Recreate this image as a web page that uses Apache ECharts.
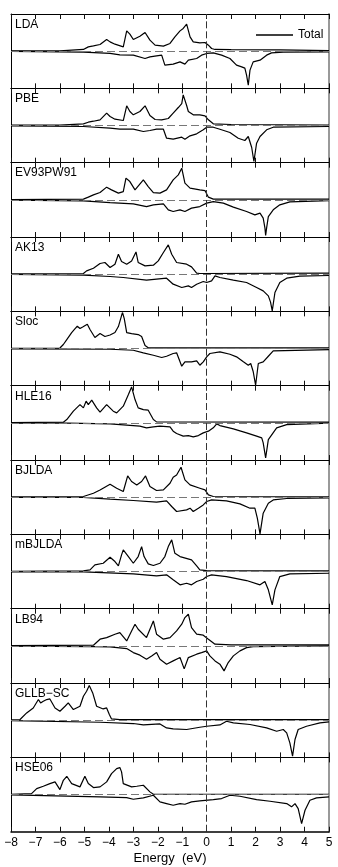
<!DOCTYPE html>
<html>
<head>
<meta charset="utf-8">
<script src="https://cdn.jsdelivr.net/npm/echarts@6/dist/echarts.min.js"></script>
<style>
  html, body { margin: 0; padding: 0; background: #fff; }
  #chart { width: 338px; height: 867px; }
</style>
</head>
<body>
<div id="chart"></div>
<script>
var panelNames = ['LDA', 'PBE', 'EV93PW91', 'AK13', 'Sloc', 'HLE16', 'BJLDA', 'mBJLDA', 'LB94', 'GLLB\u2212SC', 'HSE06']
var energyMin = -8
var energyMax = 5

// [energy (eV), DOS] pairs; up = majority spin, down = minority spin
var ldaUp = [[-8, 0.3], [-6, 0.3], [-5.04, 1.7], [-4.84, 4.3], [-4.63, 5.3], [-4.36, 6.7], [-4.09, 11.7], [-3.95, 9.3], [-3.75, 7], [-3.41, 4.3], [-3.27, 20.3], [-3.14, 17], [-3.0, 11.7], [-2.73, 15], [-2.52, 18.7], [-2.32, 11], [-2.11, 6], [-1.77, 5], [-1.5, 7.7], [-1.3, 14.3], [-1.09, 20.3], [-0.96, 22.7], [-0.82, 27], [-0.68, 14.3], [-0.55, 9.3], [-0.28, 8.3], [-0.07, 8.7], [0.07, 6], [0.2, 2.7], [0.34, 1.7], [1, 1.5], [3, 1.3], [5, 0.5]]
var ldaDown = [[-8, -0.3], [-5.04, -1], [-3.95, -2.3], [-3.55, -3.7], [-3.0, -4], [-2.52, -7.3], [-2.32, -5.7], [-2.05, -4.7], [-1.84, -4], [-1.71, -14], [-1.37, -13], [-1.09, -10.7], [-0.89, -13], [-0.75, -9], [-0.41, -7.3], [-0.21, -4], [0, -2.3], [0.27, -1.7], [0.61, -4], [0.95, -7.3], [1.22, -14], [1.43, -15.7], [1.56, -17], [1.63, -24], [1.7, -34], [1.77, -19], [1.9, -10.7], [2.18, -9], [2.45, -4], [2.65, -1.7], [3.13, -1], [5, -0.7]]

var pbeUp = [[-8, 0.3], [-6, 0.3], [-5.04, 1.7], [-4.84, 3.3], [-4.63, 4.3], [-4.36, 5.7], [-4.09, 12.4], [-3.95, 9], [-3.75, 6.3], [-3.41, 5], [-3.27, 19.7], [-3.14, 14], [-3.0, 10.7], [-2.73, 14], [-2.52, 19.7], [-2.32, 10], [-2.11, 6], [-1.84, 5.7], [-1.57, 7], [-1.37, 12.4], [-1.16, 18], [-1.02, 22], [-0.96, 30.7], [-0.82, 20], [-0.75, 14], [-0.55, 10.7], [-0.28, 10.7], [-0.07, 9.7], [0.07, 5.7], [0.27, 1.7], [1, 1], [5, 0.5]]
var pbeDown = [[-8, -0.3], [-5.04, -1], [-3.95, -2.7], [-3.55, -3.7], [-3.0, -3.7], [-2.59, -6], [-2.32, -5], [-2.05, -3.7], [-1.77, -3.7], [-1.64, -12.7], [-1.37, -13.7], [-1.02, -11.7], [-0.89, -13.7], [-0.68, -10.3], [-0.41, -8.3], [-0.14, -4.3], [0, -1.7], [0.27, -1.7], [0.54, -3.7], [0.95, -7], [1.29, -12.7], [1.56, -15], [1.7, -11], [1.84, -22], [1.93, -36], [2.04, -17.7], [2.18, -11], [2.45, -4.3], [2.72, -1.7], [5, -1]]

var ev93Up = [[-8, 0.3], [-5.04, 0.7], [-4.84, 2.7], [-4.63, 5], [-4.36, 7.3], [-4.09, 12.7], [-3.89, 10], [-3.61, 6.7], [-3.41, 8.3], [-3.3, 21.7], [-3.14, 18.3], [-2.93, 10], [-2.59, 20], [-2.39, 13.3], [-2.18, 7.3], [-1.91, 6.7], [-1.64, 10], [-1.37, 20], [-1.16, 25], [-1.02, 31.7], [-0.89, 16.7], [-0.68, 11.7], [-0.28, 10], [-0.07, 9.3], [0.07, 2.7], [0.27, 0.7], [5, 0.7]]
var ev93Down = [[-8, -0.3], [-5.04, -1], [-3.95, -2.7], [-3.0, -4], [-2.46, -6.7], [-2.18, -5], [-1.77, -4], [-1.57, -10], [-1.37, -11.7], [-1.09, -10], [-0.89, -11.7], [-0.62, -8.3], [-0.28, -6.7], [0, -3.3], [0.27, -1.7], [0.68, -3.3], [1.09, -7.3], [1.63, -11.7], [1.97, -15], [2.18, -13.3], [2.31, -18.3], [2.38, -28], [2.41, -35.5], [2.45, -28], [2.52, -16.7], [2.72, -10], [2.99, -5], [3.4, -2], [5, -0.7]]

var ak13Up = [[-8, 0.3], [-5.04, 0.7], [-4.91, 3.3], [-4.63, 6], [-4.36, 10.7], [-4.16, 11.7], [-3.95, 6.7], [-3.75, 10], [-3.61, 20], [-3.48, 12.7], [-3.27, 10], [-3.07, 13.3], [-2.89, 22.3], [-2.8, 11.7], [-2.52, 8.3], [-2.18, 9], [-1.98, 13.3], [-1.77, 21.7], [-1.57, 29.3], [-1.43, 20], [-1.23, 11.7], [-0.82, 10], [-0.62, 7.3], [-0.41, 1], [-0.28, 0.7], [5, 1]]
var ak13Down = [[-8, -0.3], [-5.04, -1], [-3.95, -2.3], [-3.41, -3.3], [-2.46, -6], [-2.05, -5], [-1.64, -4], [-1.37, -10], [-1.02, -13.3], [-0.75, -11.7], [-0.62, -13.3], [-0.41, -10], [-0.14, -7.3], [0, -8.3], [0.2, -6.7], [0.34, -1.7], [0.54, -3.3], [1.09, -6], [1.63, -8.3], [2.04, -13.3], [2.31, -16.7], [2.52, -21.7], [2.61, -28], [2.68, -36.7], [2.79, -18.3], [2.99, -8.3], [3.27, -4], [3.81, -2], [5, -1.3]]

var slocUp = [[-8, 0.3], [-6.0, 0.5], [-5.86, 4], [-5.72, 9], [-5.52, 16], [-5.38, 20], [-5.29, 22.3], [-5.18, 20], [-5.07, 21.5], [-4.88, 24.3], [-4.77, 19], [-4.57, 11], [-4.36, 15], [-4.16, 12], [-3.95, 13.5], [-3.75, 16], [-3.61, 22], [-3.48, 33], [-3.44, 36], [-3.37, 30], [-3.27, 16], [-3.07, 15], [-2.8, 14], [-2.66, 12], [-2.52, 3], [-2.39, 0.7], [5, 0.7]]
var slocDown = [[-8, -0.3], [-3.95, -0.7], [-3.0, -1.7], [-2.59, -4.3], [-2.18, -6.7], [-1.84, -9], [-1.64, -7.7], [-1.37, -5], [-1.23, -4.3], [-1.02, -17.7], [-0.89, -13.3], [-0.62, -13.3], [-0.41, -12.3], [-0.28, -16.7], [-0.14, -13.3], [0, -8.3], [0.13, -5], [0.54, -3.3], [0.95, -5.7], [1.22, -8.3], [1.5, -13.3], [1.7, -16.7], [1.8, -15], [1.9, -23], [2.0, -36.7], [2.11, -15], [2.31, -13.3], [2.52, -7.7], [2.72, -2.3], [5, -1]]

var hle16Up = [[-8, 0.3], [-5.86, 0.7], [-5.72, 3.3], [-5.45, 11.7], [-5.18, 18.3], [-5.04, 15], [-4.93, 21.7], [-4.84, 18.3], [-4.7, 22.7], [-4.5, 15], [-4.36, 10.7], [-4.09, 18.3], [-3.82, 11.7], [-3.68, 10], [-3.41, 16.7], [-3.2, 28.3], [-3.07, 36], [-2.93, 23.3], [-2.8, 15], [-2.59, 13.3], [-2.39, 12.7], [-2.18, 3.3], [-2.05, 1], [5, 0.7]]
var hle16Down = [[-8, -0.3], [-5.72, -0.3], [-3.95, -1], [-2.73, -3.3], [-2.46, -5], [-2.18, -4], [-1.91, -3.3], [-1.5, -4], [-1.37, -8.3], [-1.23, -10.7], [-0.96, -13.3], [-0.75, -12.7], [-0.55, -14], [-0.34, -12.7], [-0.14, -10], [0.07, -8.3], [0.27, -5], [0.41, -1], [0.54, -2.7], [1.09, -6], [1.63, -10], [2.04, -13.3], [2.25, -15], [2.31, -20], [2.41, -35], [2.52, -16.7], [2.86, -5], [3.27, -1.7], [5, -0.3]]

var bjldaUp = [[-8, 0.3], [-5.04, 0.7], [-4.63, 4], [-4.36, 7.3], [-3.95, 13], [-3.68, 9], [-3.41, 5.7], [-3.23, 21.3], [-3.07, 15.7], [-2.86, 12.3], [-2.66, 15.7], [-2.5, 21.3], [-2.32, 10.7], [-2.05, 6.7], [-1.77, 7.3], [-1.5, 14], [-1.37, 20], [-1.23, 22.3], [-1.05, 30], [-0.89, 17.3], [-0.68, 12.3], [-0.28, 9], [-0.07, 7.3], [0.07, 2.3], [0.27, 0.7], [5, 0.3]]
var bjldaDown = [[-8, -0.3], [-5.04, -0.3], [-3.95, -2], [-3.0, -3.3], [-2.05, -5], [-1.64, -3.7], [-1.43, -9.3], [-1.23, -14.3], [-0.82, -12.7], [-0.68, -11], [-0.55, -14.3], [-0.34, -11], [-0.14, -7.7], [0, -4.3], [0.2, -2.7], [0.81, -3.7], [1.36, -6.7], [1.77, -11], [1.97, -11], [2.07, -21], [2.18, -36.7], [2.31, -16], [2.52, -6], [2.72, -2.7], [3.27, -1.3], [5, -0.7]]

var mbjldaUp = [[-8, 0.3], [-5.04, 0.7], [-4.77, 1.7], [-4.57, 6.7], [-4.23, 8.3], [-3.95, 14.3], [-3.75, 10], [-3.61, 5.7], [-3.48, 16.7], [-3.41, 21.7], [-3.2, 15], [-3.0, 8.3], [-2.8, 15], [-2.66, 25], [-2.56, 15], [-2.39, 7.7], [-2.18, 6], [-1.91, 8.3], [-1.71, 15], [-1.57, 25], [-1.43, 31.7], [-1.3, 18.3], [-1.09, 15], [-0.62, 11.7], [-0.41, 5.7], [-0.28, 1.7], [0, 1], [5, 0.7]]
var mbjldaDown = [[-8, -0.3], [-5.04, -0.3], [-3.0, -2.3], [-2.05, -4.3], [-1.64, -3.3], [-1.37, -8.3], [-1.09, -13.3], [-0.82, -11.7], [-0.62, -13.3], [-0.41, -10], [-0.14, -7.7], [0, -5], [0.2, -3.3], [0.81, -5], [1.63, -9], [2.18, -13.3], [2.38, -10], [2.52, -18.3], [2.68, -33.3], [2.79, -18.3], [2.99, -5], [3.4, -2.3], [5, -1.7]]

var lb94Up = [[-8, 0.3], [-4.63, 0.7], [-4.36, 6.7], [-4.09, 8.3], [-3.75, 11.7], [-3.55, 13.3], [-3.27, 5], [-3.07, 15], [-2.93, 21.7], [-2.8, 16.7], [-2.46, 8.3], [-2.18, 25], [-2.05, 11.7], [-1.77, 6.7], [-1.5, 8.3], [-1.23, 15], [-1.02, 21.7], [-0.89, 28.3], [-0.75, 31.7], [-0.62, 18.3], [-0.41, 11.7], [-0.14, 10.7], [0.07, 6.7], [0.34, 1.7], [1, 1], [5, 1]]
var lb94Down = [[-8, -0.3], [-4.63, -0.7], [-3.95, -1], [-3.27, -2.7], [-3.0, -6.7], [-2.73, -9.3], [-2.46, -13.3], [-2.25, -10], [-2.05, -6.7], [-1.91, -13.3], [-1.64, -18.3], [-1.37, -15], [-1.09, -11.7], [-0.92, -23], [-0.75, -11.7], [-0.41, -8.3], [-0.21, -6.7], [0, -5], [0.13, -10], [0.34, -15], [0.54, -18.3], [0.71, -25], [0.88, -16.7], [1.09, -10], [1.36, -5], [1.63, -1.7], [1.9, -0.7], [5, 0]]

var gllbUp = [[-8, 0.3], [-7.63, 0.7], [-7.36, 7.3], [-7.09, 12.3], [-6.88, 20.7], [-6.79, 17.3], [-6.68, 19], [-6.54, 20.7], [-6.41, 21.3], [-6.2, 12.3], [-6.0, 9], [-5.79, 14], [-5.66, 17.3], [-5.45, 10.7], [-5.18, 14], [-5.04, 24], [-4.91, 29], [-4.8, 34.7], [-4.66, 27.3], [-4.5, 14], [-4.23, 11.3], [-4.09, 12.3], [-3.98, 5.7], [-3.89, 1.3], [-3.55, 0.7], [5, 0.7]]
var gllbDown = [[-8, -0.3], [-4.36, -2], [-3.0, -3.3], [-2.59, -4.7], [-1.91, -3.7], [-1.64, -7.7], [-1.37, -8.7], [-0.82, -9.3], [-0.28, -7], [0, -6], [0.54, -4.7], [0.81, -1], [1.09, -2.7], [1.77, -4.3], [2.45, -7.7], [2.86, -11], [3.13, -9.3], [3.27, -12.7], [3.4, -22.7], [3.51, -36], [3.61, -19.3], [3.74, -9.3], [4.08, -6], [4.63, -2.7], [5, -1.7]]

var hse06Up = [[-8, 0.3], [-7.16, 1], [-6.95, 6], [-6.68, 8.3], [-6.41, 11], [-6.2, 12.7], [-6.0, 5], [-5.86, 14.3], [-5.72, 18.3], [-5.52, 11], [-5.18, 7.7], [-4.98, 18.3], [-4.84, 11], [-4.63, 7], [-4.36, 7.7], [-4.09, 12.7], [-3.89, 21], [-3.68, 26], [-3.55, 27], [-3.48, 22.7], [-3.41, 11], [-3.07, 7.7], [-2.86, 8.3], [-2.59, 9.3], [-2.32, 2.7], [-2.18, 0.3], [5, 0.3]]
var hse06Down = [[-8, -0.3], [-4.36, -2.3], [-3.27, -3], [-3.0, -4.7], [-2.59, -3.3], [-2.18, -0.7], [-1.91, -7.3], [-1.64, -9], [-1.37, -10.7], [-1.09, -9], [-0.89, -9.7], [-0.62, -7.3], [-0.28, -6.3], [0.27, -5], [0.61, -4], [0.95, -0.7], [1.36, -1.7], [2.04, -5], [2.59, -6.7], [3.27, -9], [3.47, -12.3], [3.61, -9], [3.74, -14], [3.88, -29], [4.02, -15.7], [4.22, -5.7], [4.49, -3.3], [5, -2.3]]

var panels = [
  [ldaUp, ldaDown], [pbeUp, pbeDown], [ev93Up, ev93Down], [ak13Up, ak13Down],
  [slocUp, slocDown], [hle16Up, hle16Down], [bjldaUp, bjldaDown], [mbjldaUp, mbjldaDown],
  [lb94Up, lb94Down], [gllbUp, gllbDown], [hse06Up, hse06Down]
]

var chart = echarts.init(document.getElementById('chart'))

var panelTop = 14
var panelHeight = 74.34
var fontFamily = '"Liberation Sans", Arial, sans-serif'

var grid = []
var xAxis = []
var yAxis = []
var series = []
var graphic = []

function minusSign(v) {
  return v < 0 ? '\u2212' + (-v) : String(v)
}

panels.forEach(function(p, i) {
  var top = panelTop + i * panelHeight
  var last = i === panels.length - 1
  grid.push({
    left: 11,
    right: 9,
    top: top,
    height: panelHeight
  })
  // bottom axis (labels only on last panel), ticks point inward
  xAxis.push({
    gridIndex: i,
    type: 'value',
    position: 'bottom',
    min: energyMin,
    max: energyMax,
    interval: 1,
    axisLine: { show: true, onZero: false, lineStyle: { color: '#000', width: last ? 1.5 : 1 } },
    axisTick: { show: true, inside: true, length: 5, lineStyle: { color: '#111', width: 1 } },
    splitLine: { show: false },
    axisLabel: {
      show: last,
      color: '#000',
      fontSize: 12,
      fontFamily: fontFamily,
      margin: 5,
      formatter: minusSign
    },
    name: last ? 'Energy  (eV)' : '',
    nameLocation: 'middle',
    nameGap: 20,
    nameTextStyle: { color: '#000', fontSize: 13, fontFamily: fontFamily }
  })
  // top axis, ticks only
  xAxis.push({
    gridIndex: i,
    type: 'value',
    position: 'top',
    min: energyMin,
    max: energyMax,
    interval: 1,
    axisLine: { show: true, onZero: false, lineStyle: { color: '#000', width: 1 } },
    axisTick: { show: true, inside: true, length: 5, lineStyle: { color: '#111', width: 1 } },
    splitLine: { show: false },
    axisLabel: { show: false }
  })
  yAxis.push({
    gridIndex: i,
    type: 'value',
    position: 'left',
    min: -37.2,
    max: 37.2,
    axisLine: { show: true, onZero: false, lineStyle: { color: '#000', width: 1 } },
    axisTick: { show: false },
    axisLabel: { show: false },
    splitLine: { show: false }
  })
  yAxis.push({
    gridIndex: i,
    type: 'value',
    position: 'right',
    min: -37.2,
    max: 37.2,
    axisLine: { show: true, onZero: false, lineStyle: { color: '#999', width: 2 } },
    axisTick: { show: false },
    axisLabel: { show: false },
    splitLine: { show: false }
  })
  series.push({
    name: i === 0 ? 'Total' : 'up' + i,
    type: 'line',
    xAxisIndex: 2 * i,
    yAxisIndex: 2 * i,
    data: p[0],
    symbol: 'none',
    color: '#000',
    lineStyle: { color: '#000', width: 1.2 },
    z: 3,
    markLine: {
      silent: true,
      symbol: 'none',
      label: { show: false },
      animation: false,
      data: [
        { yAxis: 0, lineStyle: { color: '#777', type: [8, 4], width: 1 } },
        { xAxis: 0, lineStyle: { color: '#333', type: [7, 3], width: 1 } }
      ]
    }
  })
  series.push({
    name: 'down' + i,
    type: 'line',
    xAxisIndex: 2 * i,
    yAxisIndex: 2 * i,
    data: p[1],
    symbol: 'none',
    color: '#000',
    lineStyle: { color: '#000', width: 1.2 },
    z: 3
  })
  graphic.push({
    type: 'text',
    x: 15,
    y: top + 10.5,
    style: {
      text: panelNames[i],
      fill: '#000',
      font: '12px ' + fontFamily,
      verticalAlign: 'middle'
    }
  })
})

chart.setOption({
  animation: false,
  backgroundColor: '#fff',
  legend: {
    data: ['Total'],
    left: 251,
    top: 24,
    icon: 'rect',
    itemWidth: 37,
    itemHeight: 1.5,
    textStyle: { color: '#000', fontSize: 12, fontFamily: fontFamily }
  },
  grid: grid,
  xAxis: xAxis,
  yAxis: yAxis,
  series: series,
  graphic: graphic
})
</script>
</body>
</html>
